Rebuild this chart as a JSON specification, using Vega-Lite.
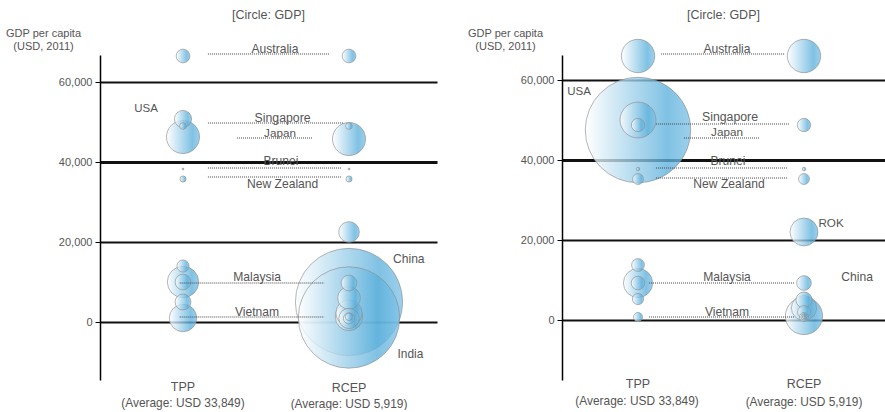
{
  "$schema": "https://vega.github.io/schema/vega-lite/v6.json",
  "padding": {"left": 5, "top": 8, "right": 0, "bottom": 0},
  "spacing": 30,
  "config": {
    "view": {"stroke": null},
    "font": "Liberation Sans",
    "title": {"fontSize": 12.5, "fontWeight": "normal", "color": "#555555", "offset": 6, "anchor": "middle", "frame": "group"}
  },
  "datasets": {
    "leftCircles": [
      {"bloc": "TPP", "country": "Australia", "x": 1, "y": 66500, "pop": 22},
      {"bloc": "TPP", "country": "Canada", "x": 1, "y": 50750, "pop": 34.5},
      {"bloc": "TPP", "country": "Singapore", "x": 1, "y": 49000, "pop": 5.2},
      {"bloc": "TPP", "country": "Japan", "x": 1, "y": 46250, "pop": 127.8},
      {"bloc": "TPP", "country": "Brunei", "x": 1, "y": 38250, "pop": 0.4},
      {"bloc": "TPP", "country": "New Zealand", "x": 1, "y": 35750, "pop": 4.4},
      {"bloc": "TPP", "country": "Chile", "x": 1, "y": 14000, "pop": 17.3},
      {"bloc": "TPP", "country": "Mexico", "x": 1, "y": 10000, "pop": 115},
      {"bloc": "TPP", "country": "Malaysia", "x": 1, "y": 10000, "pop": 28.9},
      {"bloc": "TPP", "country": "Peru", "x": 1, "y": 5000, "pop": 29.4},
      {"bloc": "TPP", "country": "Vietnam", "x": 1, "y": 1000, "pop": 87.8},
      {"bloc": "RCEP", "country": "Australia", "x": 2, "y": 66500, "pop": 22},
      {"bloc": "RCEP", "country": "Singapore", "x": 2, "y": 49000, "pop": 5.2},
      {"bloc": "RCEP", "country": "Japan", "x": 2, "y": 45750, "pop": 127.8},
      {"bloc": "RCEP", "country": "Brunei", "x": 2, "y": 38250, "pop": 0.4},
      {"bloc": "RCEP", "country": "New Zealand", "x": 2, "y": 35750, "pop": 4.4},
      {"bloc": "RCEP", "country": "Korea", "x": 2, "y": 22500, "pop": 49.8},
      {"bloc": "RCEP", "country": "Malaysia", "x": 2, "y": 9750, "pop": 28.9},
      {"bloc": "RCEP", "country": "Thailand", "x": 2, "y": 6000, "pop": 60},
      {"bloc": "RCEP", "country": "Philippines", "x": 2, "y": 2250, "pop": 80},
      {"bloc": "RCEP", "country": "Vietnam", "x": 2, "y": 1250, "pop": 87.8},
      {"bloc": "RCEP", "country": "Myanmar", "x": 2, "y": 900, "pop": 48},
      {"bloc": "RCEP", "country": "Cambodia", "x": 2, "y": 900, "pop": 14.3},
      {"bloc": "RCEP", "country": "Laos", "x": 2, "y": 1300, "pop": 6.5},
      {"bloc": "RCEP", "country": "China", "x": 2, "y": 5000, "pop": 1344},
      {"bloc": "RCEP", "country": "India", "x": 2, "y": 1125, "pop": 1200}
    ],
    "leftLines": [
      {"country": "Australia", "x": 1.15, "x2": 1.886, "y": 67000},
      {"country": "Singapore", "x": 1.15, "x2": 1.964, "y": 49750},
      {"country": "Japan", "x": 1.325, "x2": 1.783, "y": 46000},
      {"country": "Brunei", "x": 1.15, "x2": 1.952, "y": 38500},
      {"country": "New Zealand", "x": 1.15, "x2": 1.952, "y": 36250},
      {"country": "Malaysia", "x": 0.98, "x2": 1.85, "y": 9750},
      {"country": "Vietnam", "x": 0.98, "x2": 1.85, "y": 1250}
    ],
    "leftLabels": [
      {"label": "Australia", "kind": "l", "x": 1.554, "y": 68250},
      {"label": "Singapore", "kind": "xl", "x": 1.6, "y": 51000},
      {"label": "Japan", "kind": "s", "x": 1.584, "y": 47250},
      {"label": "Brunei", "kind": "l", "x": 1.59, "y": 40250},
      {"label": "New Zealand", "kind": "l", "x": 1.6, "y": 34500},
      {"label": "USA", "kind": "xs", "x": 0.777, "y": 53250},
      {"label": "Malaysia", "kind": "l", "x": 1.446, "y": 11250},
      {"label": "Vietnam", "kind": "l", "x": 1.446, "y": 2500},
      {"label": "China", "kind": "l", "x": 2.36, "y": 15750},
      {"label": "India", "kind": "m", "x": 2.37, "y": -8000},
      {"label": "TPP", "kind": "cat", "x": 1.0, "y": -16250},
      {"label": "(Average: USD 33,849)", "kind": "m", "x": 1.0, "y": -20250},
      {"label": "RCEP", "kind": "cat", "x": 2.0, "y": -16500},
      {"label": "(Average: USD 5,919)", "kind": "m", "x": 2.0, "y": -20500}
    ],
    "rightCircles": [
      {"bloc": "TPP", "country": "Australia", "x": 1, "y": 66000, "gdp": 1.5},
      {"bloc": "TPP", "country": "USA", "x": 1, "y": 47500, "gdp": 15.0},
      {"bloc": "TPP", "country": "Canada", "x": 1, "y": 50000, "gdp": 1.74},
      {"bloc": "TPP", "country": "Singapore", "x": 1, "y": 48750, "gdp": 0.24},
      {"bloc": "TPP", "country": "Brunei", "x": 1, "y": 37750, "gdp": 0.017},
      {"bloc": "TPP", "country": "New Zealand", "x": 1, "y": 35250, "gdp": 0.16},
      {"bloc": "TPP", "country": "Chile", "x": 1, "y": 13750, "gdp": 0.22},
      {"bloc": "TPP", "country": "Mexico", "x": 1, "y": 9250, "gdp": 1.15},
      {"bloc": "TPP", "country": "Malaysia", "x": 1, "y": 9250, "gdp": 0.25},
      {"bloc": "TPP", "country": "Peru", "x": 1, "y": 5250, "gdp": 0.17},
      {"bloc": "TPP", "country": "Vietnam", "x": 1, "y": 750, "gdp": 0.11},
      {"bloc": "RCEP", "country": "Australia", "x": 2, "y": 66000, "gdp": 1.5},
      {"bloc": "RCEP", "country": "Singapore", "x": 2, "y": 48750, "gdp": 0.24},
      {"bloc": "RCEP", "country": "Brunei", "x": 2, "y": 37750, "gdp": 0.017},
      {"bloc": "RCEP", "country": "New Zealand", "x": 2, "y": 35250, "gdp": 0.16},
      {"bloc": "RCEP", "country": "Korea", "x": 2, "y": 22000, "gdp": 1.05},
      {"bloc": "RCEP", "country": "Malaysia", "x": 2, "y": 9250, "gdp": 0.29},
      {"bloc": "RCEP", "country": "Thailand", "x": 2, "y": 5000, "gdp": 0.35},
      {"bloc": "RCEP", "country": "Indonesia", "x": 2, "y": 3000, "gdp": 0.85},
      {"bloc": "RCEP", "country": "Philippines", "x": 2, "y": 2000, "gdp": 0.22},
      {"bloc": "RCEP", "country": "India", "x": 2, "y": 1000, "gdp": 1.87},
      {"bloc": "RCEP", "country": "Vietnam", "x": 2, "y": 750, "gdp": 0.11},
      {"bloc": "RCEP", "country": "Myanmar", "x": 2, "y": 750, "gdp": 0.05},
      {"bloc": "RCEP", "country": "Cambodia", "x": 2, "y": 750, "gdp": 0.013},
      {"bloc": "RCEP", "country": "Laos", "x": 2, "y": 1250, "gdp": 0.008}
    ],
    "rightLines": [
      {"country": "Australia", "x": 1.139, "x2": 1.88, "y": 66500},
      {"country": "Singapore", "x": 1.108, "x2": 1.91, "y": 49000},
      {"country": "Japan", "x": 1.277, "x2": 1.735, "y": 45500},
      {"country": "Brunei", "x": 1.108, "x2": 1.904, "y": 38000},
      {"country": "New Zealand", "x": 1.108, "x2": 1.904, "y": 35500},
      {"country": "Malaysia", "x": 1.066, "x2": 1.94, "y": 9250},
      {"country": "Vietnam", "x": 1.066, "x2": 1.94, "y": 750}
    ],
    "rightLabels": [
      {"label": "Australia", "kind": "l", "x": 1.536, "y": 67750},
      {"label": "USA", "kind": "xs", "x": 0.645, "y": 57000},
      {"label": "Singapore", "kind": "xl", "x": 1.554, "y": 50750},
      {"label": "Japan", "kind": "s", "x": 1.536, "y": 47000},
      {"label": "Brunei", "kind": "l", "x": 1.542, "y": 39750},
      {"label": "New Zealand", "kind": "l", "x": 1.548, "y": 34000},
      {"label": "ROK", "kind": "s", "x": 2.163, "y": 24250},
      {"label": "China", "kind": "l", "x": 2.32, "y": 10750},
      {"label": "Malaysia", "kind": "l", "x": 1.536, "y": 10750},
      {"label": "Vietnam", "kind": "l", "x": 1.536, "y": 2000},
      {"label": "TPP", "kind": "cat", "x": 1.0, "y": -16000},
      {"label": "(Average: USD 33,849)", "kind": "m", "x": 0.994, "y": -20250},
      {"label": "RCEP", "kind": "cat", "x": 2.0, "y": -16000},
      {"label": "(Average: USD 5,919)", "kind": "m", "x": 2.0, "y": -20500}
    ]
  },
  "hconcat": [
    {
      "width": 337,
      "height": 325,
      "title": {"text": "[Circle: GDP]"},
      "encoding": {
        "x": {"field": "x", "type": "quantitative", "scale": {"domain": [0.5, 2.53], "nice": false, "zero": false}, "axis": null},
        "y": {
          "field": "y", "type": "quantitative",
          "scale": {"domain": [-14500, 66750], "nice": false, "zero": false},
          "axis": {
            "values": [0, 20000, 40000, 60000], "format": ",d",
            "title": ["GDP per capita", "(USD, 2011)"],
            "titleAngle": 0, "titleAlign": "center", "titleBaseline": "top", "titleX": -57, "titleY": -28,
            "titleFontSize": 11, "titleFontWeight": "normal", "titleColor": "#555555", "titleLineHeight": 13,
            "labelFontSize": 11, "labelColor": "#555555", "labelPadding": 3,
            "tickSize": 5, "tickColor": "#000000", "domainColor": "#000000", "domainWidth": 1.5,
            "grid": true, "gridColor": "#111111",
            "gridWidth": {"condition": {"test": "datum.value === 40000", "value": 3}, "value": 2.2}
          }
        }
      },
      "layer": [
        {
          "data": {"name": "leftCircles"},
          "mark": {
            "type": "point", "shape": "circle", "filled": true,
            "fill": {"gradient": "linear", "x1": 0, "y1": 0, "x2": 1, "y2": 0,
              "stops": [{"offset": 0, "color": "#ffffff"}, {"offset": 0.78, "color": "#5cb0dc"}, {"offset": 1, "color": "#80c3e6"}]},
            "fillOpacity": 0.78, "stroke": "#8c8c8c", "strokeWidth": 0.8, "strokeOpacity": 0.8
          },
          "encoding": {
            "size": {"field": "pop", "type": "quantitative", "scale": {"type": "linear", "zero": true, "domain": [0, 1344], "range": [0, 11499]}, "legend": null},
            "order": {"field": "pop", "sort": "descending"}
          }
        },
        {
          "data": {"name": "leftLines"},
          "mark": {"type": "rule", "strokeDash": [1, 1], "color": "#444444", "strokeWidth": 1},
          "encoding": {"x2": {"field": "x2"}}
        },
        {
          "data": {"name": "leftLabels"},
          "mark": {"type": "text", "color": "#555555", "baseline": "middle", "align": "center"},
          "encoding": {
            "text": {"field": "label"},
            "size": {"field": "kind", "type": "nominal", "scale": {"domain": ["cat", "xl", "l", "m", "s", "xs"], "range": [12.5, 11.5, 10.5, 11, 9.5, 9]}, "legend": null}
          }
        }
      ],
      "resolve": {"scale": {"size": "independent"}}
    },
    {
      "width": 323,
      "height": 325,
      "title": {"text": "[Circle: GDP]"},
      "encoding": {
        "x": {"field": "x", "type": "quantitative", "scale": {"domain": [0.542, 2.488], "nice": false, "zero": false}, "axis": null},
        "y": {
          "field": "y", "type": "quantitative",
          "scale": {"domain": [-15000, 66250], "nice": false, "zero": false},
          "axis": {
            "values": [0, 20000, 40000, 60000], "format": ",d",
            "title": ["GDP per capita", "(USD, 2011)"],
            "titleAngle": 0, "titleAlign": "center", "titleBaseline": "top", "titleX": -57, "titleY": -28,
            "titleFontSize": 11, "titleFontWeight": "normal", "titleColor": "#555555", "titleLineHeight": 13,
            "labelFontSize": 11, "labelColor": "#555555", "labelPadding": 3,
            "tickSize": 5, "tickColor": "#000000", "domainColor": "#000000", "domainWidth": 1.5,
            "grid": true, "gridColor": "#111111",
            "gridWidth": {"condition": {"test": "datum.value === 40000", "value": 3}, "value": 2.2}
          }
        }
      },
      "layer": [
        {
          "data": {"name": "rightCircles"},
          "mark": {
            "type": "point", "shape": "circle", "filled": true,
            "fill": {"gradient": "linear", "x1": 0, "y1": 0, "x2": 1, "y2": 0,
              "stops": [{"offset": 0, "color": "#ffffff"}, {"offset": 0.78, "color": "#5cb0dc"}, {"offset": 1, "color": "#80c3e6"}]},
            "fillOpacity": 0.78, "stroke": "#8c8c8c", "strokeWidth": 0.8, "strokeOpacity": 0.8
          },
          "encoding": {
            "size": {"field": "gdp", "type": "quantitative", "scale": {"type": "linear", "zero": true, "domain": [0, 15], "range": [0, 11122]}, "legend": null},
            "order": {"field": "gdp", "sort": "descending"}
          }
        },
        {
          "data": {"name": "rightLines"},
          "mark": {"type": "rule", "strokeDash": [1, 1], "color": "#444444", "strokeWidth": 1},
          "encoding": {"x2": {"field": "x2"}}
        },
        {
          "data": {"name": "rightLabels"},
          "mark": {"type": "text", "color": "#555555", "baseline": "middle", "align": "center"},
          "encoding": {
            "text": {"field": "label"},
            "size": {"field": "kind", "type": "nominal", "scale": {"domain": ["cat", "xl", "l", "m", "s", "xs"], "range": [12.5, 11.5, 10.5, 11, 9.5, 9]}, "legend": null}
          }
        }
      ],
      "resolve": {"scale": {"size": "independent"}}
    }
  ]
}
